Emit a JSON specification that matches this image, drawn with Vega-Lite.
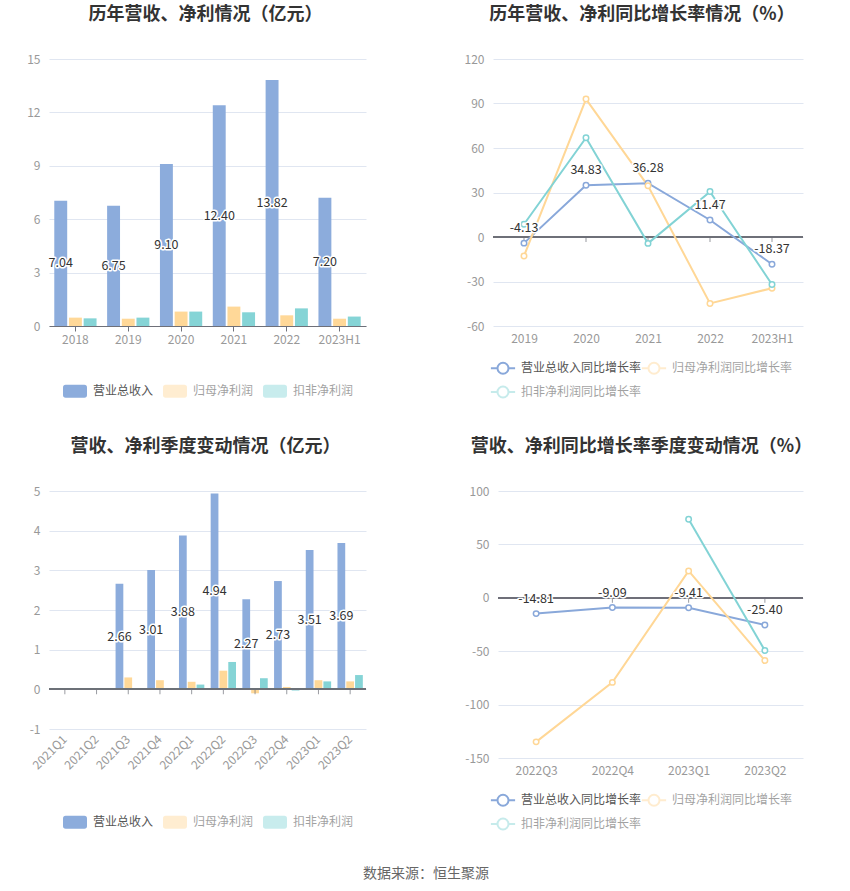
{
  "$schema": "https://vega.github.io/schema/vega-lite/v6.json",
  "background": "#ffffff",
  "padding": {"left": 26, "top": 6, "right": 20, "bottom": 10},
  "datasets": {
    "annual": [
      {"period": "2018", "series": "营业总收入", "value": 7.04},
      {"period": "2018", "series": "归母净利润", "value": 0.47},
      {"period": "2018", "series": "扣非净利润", "value": 0.43},
      {"period": "2019", "series": "营业总收入", "value": 6.75},
      {"period": "2019", "series": "归母净利润", "value": 0.41},
      {"period": "2019", "series": "扣非净利润", "value": 0.47},
      {"period": "2020", "series": "营业总收入", "value": 9.10},
      {"period": "2020", "series": "归母净利润", "value": 0.81},
      {"period": "2020", "series": "扣非净利润", "value": 0.81},
      {"period": "2021", "series": "营业总收入", "value": 12.40},
      {"period": "2021", "series": "归母净利润", "value": 1.09},
      {"period": "2021", "series": "扣非净利润", "value": 0.77},
      {"period": "2022", "series": "营业总收入", "value": 13.82},
      {"period": "2022", "series": "归母净利润", "value": 0.60},
      {"period": "2022", "series": "扣非净利润", "value": 0.99},
      {"period": "2023H1", "series": "营业总收入", "value": 7.20},
      {"period": "2023H1", "series": "归母净利润", "value": 0.41},
      {"period": "2023H1", "series": "扣非净利润", "value": 0.53}
    ],
    "annualGrowth": [
      {"period": "2019", "series": "营业总收入同比增长率", "value": -4.13},
      {"period": "2019", "series": "归母净利润同比增长率", "value": -12.8},
      {"period": "2019", "series": "扣非净利润同比增长率", "value": 8.6},
      {"period": "2020", "series": "营业总收入同比增长率", "value": 34.83},
      {"period": "2020", "series": "归母净利润同比增长率", "value": 93.0},
      {"period": "2020", "series": "扣非净利润同比增长率", "value": 66.9},
      {"period": "2021", "series": "营业总收入同比增长率", "value": 36.28},
      {"period": "2021", "series": "归母净利润同比增长率", "value": 34.5},
      {"period": "2021", "series": "扣非净利润同比增长率", "value": -4.3},
      {"period": "2022", "series": "营业总收入同比增长率", "value": 11.47},
      {"period": "2022", "series": "归母净利润同比增长率", "value": -44.8},
      {"period": "2022", "series": "扣非净利润同比增长率", "value": 30.6},
      {"period": "2023H1", "series": "营业总收入同比增长率", "value": -18.37},
      {"period": "2023H1", "series": "归母净利润同比增长率", "value": -34.5},
      {"period": "2023H1", "series": "扣非净利润同比增长率", "value": -32.0}
    ],
    "quarterly": [
      {"period": "2021Q1", "series": "营业总收入", "value": null},
      {"period": "2021Q2", "series": "营业总收入", "value": null},
      {"period": "2021Q3", "series": "营业总收入", "value": 2.66},
      {"period": "2021Q3", "series": "归母净利润", "value": 0.30},
      {"period": "2021Q4", "series": "营业总收入", "value": 3.01},
      {"period": "2021Q4", "series": "归母净利润", "value": 0.23},
      {"period": "2022Q1", "series": "营业总收入", "value": 3.88},
      {"period": "2022Q1", "series": "归母净利润", "value": 0.19},
      {"period": "2022Q1", "series": "扣非净利润", "value": 0.12},
      {"period": "2022Q2", "series": "营业总收入", "value": 4.94},
      {"period": "2022Q2", "series": "归母净利润", "value": 0.47},
      {"period": "2022Q2", "series": "扣非净利润", "value": 0.69},
      {"period": "2022Q3", "series": "营业总收入", "value": 2.27},
      {"period": "2022Q3", "series": "归母净利润", "value": -0.10},
      {"period": "2022Q3", "series": "扣非净利润", "value": 0.28},
      {"period": "2022Q4", "series": "营业总收入", "value": 2.73},
      {"period": "2022Q4", "series": "归母净利润", "value": 0.06},
      {"period": "2022Q4", "series": "扣非净利润", "value": -0.03},
      {"period": "2023Q1", "series": "营业总收入", "value": 3.51},
      {"period": "2023Q1", "series": "归母净利润", "value": 0.23},
      {"period": "2023Q1", "series": "扣非净利润", "value": 0.20},
      {"period": "2023Q2", "series": "营业总收入", "value": 3.69},
      {"period": "2023Q2", "series": "归母净利润", "value": 0.20},
      {"period": "2023Q2", "series": "扣非净利润", "value": 0.36}
    ],
    "quarterGrowth": [
      {"period": "2022Q3", "series": "营业总收入同比增长率", "value": -14.81},
      {"period": "2022Q3", "series": "归母净利润同比增长率", "value": -134.9},
      {"period": "2022Q3", "series": "扣非净利润同比增长率", "value": null},
      {"period": "2022Q4", "series": "营业总收入同比增长率", "value": -9.09},
      {"period": "2022Q4", "series": "归母净利润同比增长率", "value": -79.2},
      {"period": "2022Q4", "series": "扣非净利润同比增长率", "value": null},
      {"period": "2023Q1", "series": "营业总收入同比增长率", "value": -9.41},
      {"period": "2023Q1", "series": "归母净利润同比增长率", "value": 25.2},
      {"period": "2023Q1", "series": "扣非净利润同比增长率", "value": 73.6},
      {"period": "2023Q2", "series": "营业总收入同比增长率", "value": -25.40},
      {"period": "2023Q2", "series": "归母净利润同比增长率", "value": -58.8},
      {"period": "2023Q2", "series": "扣非净利润同比增长率", "value": -49.4}
    ]
  },
  "title": {"text": "数据来源：恒生聚源", "orient": "bottom", "anchor": "middle", "fontSize": 14, "fontWeight": "normal", "color": "#666666", "offset": 33, "frame": "group", "dx": 377},
  "spacing": 432,
  "bounds": "flush",
  "resolve": {"scale": {"color": "independent", "stroke": "independent", "x": "independent", "y": "independent", "xOffset": "independent"}, "legend": {"color": "independent", "stroke": "independent"}},
  "vconcat": [
    {
      "spacing": 127,
      "bounds": "flush",
      "resolve": {"scale": {"color": "independent", "stroke": "independent", "x": "independent", "y": "independent", "xOffset": "independent"}, "legend": {"color": "independent", "stroke": "independent"}},
      "hconcat": [
        {
          "width": 317,
          "height": 267,
          "title": {"text": "历年营收、净利情况（亿元）", "dx": -2},
          "data": {"name": "annual"},
          "encoding": {
            "x": {"field": "period", "type": "nominal", "sort": null,
              "scale": {"domain": ["2018", "2019", "2020", "2021", "2022", "2023H1"], "paddingInner": 0.2, "paddingOuter": 0.1},
              "axis": {"title": null, "labelAngle": 0, "domain": true, "domainColor": "#6E7079", "ticks": true, "tickColor": "#6E7079", "tickSize": 5, "labelPadding": 3}},
            "xOffset": {"field": "series", "type": "nominal", "sort": null, "scale": {"domain": ["营业总收入", "归母净利润", "扣非净利润"], "paddingInner": 0.12, "paddingOuter": 0}}
          },
          "layer": [
            {
              "mark": {"type": "bar"},
              "encoding": {
                "y": {"field": "value", "type": "quantitative", "stack": null, "scale": {"domain": [0, 15], "nice": false, "zero": false}, "axis": {"title": null, "values": [0, 3, 6, 9, 12, 15]}},
                "color": {"field": "series", "type": "nominal", "sort": null,
                  "scale": {"domain": ["营业总收入", "归母净利润", "扣非净利润"], "range": ["#8CACDC", "#FFD898", "#85D4D6"]},
                  "legend": {"orient": "none", "legendX": 14, "legendY": 320, "direction": "horizontal", "title": null,
                    "symbolType": "M-0.78,-0.54L0.78,-0.54Q1,-0.54,1,-0.32L1,0.32Q1,0.54,0.78,0.54L-0.78,0.54Q-1,0.54,-1,0.32L-1,-0.32Q-1,-0.54,-0.78,-0.54Z",
                    "symbolSize": 576, "symbolStrokeWidth": 0, "labelOffset": 6, "columnPadding": 9,
                    "encode": {"symbols": {"update": {"opacity": {"signal": "datum.value === '营业总收入' ? 1 : 0.45"}}}, "labels": {"update": {"opacity": {"signal": "datum.value === '营业总收入' ? 1 : 0.55"}}}}}}
              }
            },
            {
              "transform": [{"filter": "datum.series === '营业总收入'"}],
              "mark": {"type": "text", "fontSize": 12.5, "fill": "#ffffff", "stroke": "#ffffff", "strokeWidth": 3, "strokeJoin": "round", "baseline": "middle"},
              "encoding": {
                "y": {"field": "value", "type": "quantitative", "stack": null, "scale": {"domain": [0, 30], "nice": false, "zero": false}, "axis": null},
                "text": {"field": "value", "type": "quantitative", "format": ".2f"}
              }
            },
            {
              "transform": [{"filter": "datum.series === '营业总收入'"}],
              "mark": {"type": "text", "fontSize": 12.5, "fill": "#333333", "baseline": "middle"},
              "encoding": {
                "y": {"field": "value", "type": "quantitative", "stack": null, "scale": {"domain": [0, 30], "nice": false, "zero": false}, "axis": null},
                "text": {"field": "value", "type": "quantitative", "format": ".2f"}
              }
            }
          ],
          "resolve": {"scale": {"y": "independent"}}
        },
        {
          "width": 310,
          "height": 267,
          "title": {"text": "历年营收、净利同比增长率情况（%）", "dx": -6},
          "data": {"name": "annualGrowth"},
          "layer": [
            {
              "mark": {"type": "rule", "color": "#6E7079", "strokeWidth": 1},
              "encoding": {"y": {"datum": 0, "type": "quantitative", "scale": {"domain": [-60, 120], "nice": false, "zero": false}}}
            },
            {
              "transform": [{"filter": "datum.series === '营业总收入同比增长率'"}],
              "mark": {"type": "tick", "orient": "vertical", "size": 5, "thickness": 1, "color": "#6E7079", "yOffset": 2.5},
              "encoding": {
                "x": {"field": "period", "type": "nominal", "sort": null, "scale": {"type": "point", "domain": ["2019", "2020", "2021", "2022", "2023H1"], "padding": 0.5}, "axis": {"title": null, "labelAngle": 0, "labelPadding": 7}},
                "y": {"datum": 0, "type": "quantitative"}
              }
            },
            {
              "mark": {"type": "line", "strokeWidth": 2},
              "encoding": {
                "x": {"field": "period", "type": "nominal", "sort": null},
                "y": {"field": "value", "type": "quantitative", "axis": {"title": null, "values": [-60, -30, 0, 30, 60, 90, 120]}},
                "stroke": {"field": "series", "type": "nominal", "sort": null,
                  "scale": {"domain": ["营业总收入同比增长率", "归母净利润同比增长率", "扣非净利润同比增长率"], "range": ["#89A8DA", "#FFD796", "#82D3D5"]},
                  "legend": {"orient": "none", "legendX": -2, "legendY": 297, "direction": "horizontal", "columns": 2, "title": null,
                    "symbolType": "M-1.1,0L-0.5,0M0.5,0L1.1,0M-0.5,0A0.5,0.5,0,1,1,0.5,0A0.5,0.5,0,1,1,-0.5,0",
                    "symbolSize": 484, "symbolStrokeWidth": 2, "symbolFillColor": "#ffffff", "labelOffset": 6, "columnPadding": -6, "rowPadding": 2,
                    "encode": {"symbols": {"update": {"opacity": {"signal": "datum.value === '营业总收入同比增长率' ? 1 : 0.45"}}}, "labels": {"update": {"opacity": {"signal": "datum.value === '营业总收入同比增长率' ? 1 : 0.55"}}}}}}
              }
            },
            {
              "mark": {"type": "point", "filled": false, "fill": "#ffffff", "fillOpacity": 1, "size": 30, "strokeWidth": 1.5, "opacity": 1},
              "encoding": {
                "x": {"field": "period", "type": "nominal", "sort": null},
                "y": {"field": "value", "type": "quantitative"},
                "stroke": {"field": "series", "type": "nominal", "sort": null}
              }
            },
            {
              "transform": [{"filter": "datum.series === '营业总收入同比增长率'"}],
              "mark": {"type": "text", "fontSize": 12.5, "fill": "#ffffff", "stroke": "#ffffff", "strokeWidth": 3, "strokeJoin": "round", "baseline": "middle", "dy": -15},
              "encoding": {
                "x": {"field": "period", "type": "nominal", "sort": null},
                "y": {"field": "value", "type": "quantitative"},
                "text": {"field": "value", "type": "quantitative", "format": ".2f"}
              }
            },
            {
              "transform": [{"filter": "datum.series === '营业总收入同比增长率'"}],
              "mark": {"type": "text", "fontSize": 12.5, "fill": "#333333", "baseline": "middle", "dy": -15},
              "encoding": {
                "x": {"field": "period", "type": "nominal", "sort": null},
                "y": {"field": "value", "type": "quantitative"},
                "text": {"field": "value", "type": "quantitative", "format": ".2f"}
              }
            }
          ]
        }
      ]
    },
    {
      "spacing": 132,
      "bounds": "flush",
      "resolve": {"scale": {"color": "independent", "stroke": "independent", "x": "independent", "y": "independent", "xOffset": "independent"}, "legend": {"color": "independent", "stroke": "independent"}},
      "hconcat": [
        {
          "width": 317,
          "height": 238,
          "title": {"text": "营收、净利季度变动情况（亿元）", "dx": -2},
          "data": {"name": "quarterly"},
          "encoding": {
            "x": {"field": "period", "type": "nominal", "sort": null,
              "scale": {"domain": ["2021Q1", "2021Q2", "2021Q3", "2021Q4", "2022Q1", "2022Q2", "2022Q3", "2022Q4", "2023Q1", "2023Q2"], "paddingInner": 0.2, "paddingOuter": 0.1},
              "axis": {"title": null, "labelAngle": -45, "labelAlign": "right", "labelBaseline": "middle", "labelPadding": 8}}
          },
          "layer": [
            {
              "mark": {"type": "bar"},
              "encoding": {
                "xOffset": {"field": "series", "type": "nominal", "sort": null, "scale": {"domain": ["营业总收入", "归母净利润", "扣非净利润"], "paddingInner": 0.12, "paddingOuter": 0}},
                "y": {"field": "value", "type": "quantitative", "stack": null, "scale": {"domain": [-1, 5], "nice": false, "zero": false}, "axis": {"title": null, "values": [-1, 0, 1, 2, 3, 4, 5]}},
                "color": {"field": "series", "type": "nominal", "sort": null,
                  "scale": {"domain": ["营业总收入", "归母净利润", "扣非净利润"], "range": ["#8CACDC", "#FFD898", "#85D4D6"]},
                  "legend": {"orient": "none", "legendX": 14, "legendY": 319, "direction": "horizontal", "title": null,
                    "symbolType": "M-0.78,-0.54L0.78,-0.54Q1,-0.54,1,-0.32L1,0.32Q1,0.54,0.78,0.54L-0.78,0.54Q-1,0.54,-1,0.32L-1,-0.32Q-1,-0.54,-0.78,-0.54Z",
                    "symbolSize": 576, "symbolStrokeWidth": 0, "labelOffset": 6, "columnPadding": 9,
                    "encode": {"symbols": {"update": {"opacity": {"signal": "datum.value === '营业总收入' ? 1 : 0.45"}}}, "labels": {"update": {"opacity": {"signal": "datum.value === '营业总收入' ? 1 : 0.55"}}}}}}
              }
            },
            {
              "mark": {"type": "rule", "color": "#6E7079", "strokeWidth": 1},
              "encoding": {"x": null, "y": {"datum": 0, "type": "quantitative", "scale": {"domain": [-1, 5], "nice": false, "zero": false}, "axis": null}}
            },
            {
              "transform": [{"filter": "datum.series === '营业总收入'"}],
              "mark": {"type": "tick", "orient": "vertical", "size": 5, "thickness": 1, "color": "#6E7079", "yOffset": 2.5},
              "encoding": {"y": {"datum": 0, "type": "quantitative", "scale": {"domain": [-1, 5], "nice": false, "zero": false}, "axis": null}}
            },
            {
              "transform": [{"filter": "datum.series === '营业总收入'"}],
              "mark": {"type": "text", "fontSize": 12.5, "fill": "#ffffff", "stroke": "#ffffff", "strokeWidth": 3, "strokeJoin": "round", "baseline": "middle"},
              "encoding": {
                "xOffset": {"field": "series", "type": "nominal", "sort": null, "scale": {"domain": ["营业总收入", "归母净利润", "扣非净利润"], "paddingInner": 0.12, "paddingOuter": 0}},
                "y": {"field": "value", "type": "quantitative", "stack": null, "scale": {"domain": [-2, 10], "nice": false, "zero": false}, "axis": null},
                "text": {"field": "value", "type": "quantitative", "format": ".2f"}
              }
            },
            {
              "transform": [{"filter": "datum.series === '营业总收入'"}],
              "mark": {"type": "text", "fontSize": 12.5, "fill": "#333333", "baseline": "middle"},
              "encoding": {
                "xOffset": {"field": "series", "type": "nominal", "sort": null, "scale": {"domain": ["营业总收入", "归母净利润", "扣非净利润"], "paddingInner": 0.12, "paddingOuter": 0}},
                "y": {"field": "value", "type": "quantitative", "stack": null, "scale": {"domain": [-2, 10], "nice": false, "zero": false}, "axis": null},
                "text": {"field": "value", "type": "quantitative", "format": ".2f"}
              }
            }
          ],
          "resolve": {"scale": {"y": "independent"}}
        },
        {
          "width": 305,
          "height": 267,
          "title": {"text": "营收、净利同比增长率季度变动情况（%）", "dx": -9},
          "data": {"name": "quarterGrowth"},
          "layer": [
            {
              "mark": {"type": "rule", "color": "#6E7079", "strokeWidth": 1},
              "encoding": {"y": {"datum": 0, "type": "quantitative", "scale": {"domain": [-150, 100], "nice": false, "zero": false}}}
            },
            {
              "transform": [{"filter": "datum.series === '营业总收入同比增长率'"}],
              "mark": {"type": "tick", "orient": "vertical", "size": 5, "thickness": 1, "color": "#6E7079", "yOffset": 2.5},
              "encoding": {
                "x": {"field": "period", "type": "nominal", "sort": null, "scale": {"type": "point", "domain": ["2022Q3", "2022Q4", "2023Q1", "2023Q2"], "padding": 0.5}, "axis": {"title": null, "labelAngle": 0, "labelPadding": 7}},
                "y": {"datum": 0, "type": "quantitative"}
              }
            },
            {
              "mark": {"type": "line", "strokeWidth": 2},
              "encoding": {
                "x": {"field": "period", "type": "nominal", "sort": null},
                "y": {"field": "value", "type": "quantitative", "axis": {"title": null, "values": [-150, -100, -50, 0, 50, 100]}},
                "stroke": {"field": "series", "type": "nominal", "sort": null,
                  "scale": {"domain": ["营业总收入同比增长率", "归母净利润同比增长率", "扣非净利润同比增长率"], "range": ["#89A8DA", "#FFD796", "#82D3D5"]},
                  "legend": {"orient": "none", "legendX": -7, "legendY": 297, "direction": "horizontal", "columns": 2, "title": null,
                    "symbolType": "M-1.1,0L-0.5,0M0.5,0L1.1,0M-0.5,0A0.5,0.5,0,1,1,0.5,0A0.5,0.5,0,1,1,-0.5,0",
                    "symbolSize": 484, "symbolStrokeWidth": 2, "symbolFillColor": "#ffffff", "labelOffset": 6, "columnPadding": -6, "rowPadding": 2,
                    "encode": {"symbols": {"update": {"opacity": {"signal": "datum.value === '营业总收入同比增长率' ? 1 : 0.45"}}}, "labels": {"update": {"opacity": {"signal": "datum.value === '营业总收入同比增长率' ? 1 : 0.55"}}}}}}
              }
            },
            {
              "mark": {"type": "point", "filled": false, "fill": "#ffffff", "fillOpacity": 1, "size": 30, "strokeWidth": 1.5, "opacity": 1},
              "encoding": {
                "x": {"field": "period", "type": "nominal", "sort": null},
                "y": {"field": "value", "type": "quantitative"},
                "stroke": {"field": "series", "type": "nominal", "sort": null}
              }
            },
            {
              "transform": [{"filter": "datum.series === '营业总收入同比增长率'"}],
              "mark": {"type": "text", "fontSize": 12.5, "fill": "#ffffff", "stroke": "#ffffff", "strokeWidth": 3, "strokeJoin": "round", "baseline": "middle", "dy": -15},
              "encoding": {
                "x": {"field": "period", "type": "nominal", "sort": null},
                "y": {"field": "value", "type": "quantitative"},
                "text": {"field": "value", "type": "quantitative", "format": ".2f"}
              }
            },
            {
              "transform": [{"filter": "datum.series === '营业总收入同比增长率'"}],
              "mark": {"type": "text", "fontSize": 12.5, "fill": "#333333", "baseline": "middle", "dy": -15},
              "encoding": {
                "x": {"field": "period", "type": "nominal", "sort": null},
                "y": {"field": "value", "type": "quantitative"},
                "text": {"field": "value", "type": "quantitative", "format": ".2f"}
              }
            }
          ]
        }
      ]
    }
  ],
  "config": {
    "font": "Noto Sans CJK SC",
    "view": {"stroke": null},
    "axis": {"labelColor": "#999999", "labelFontSize": 12, "labelFont": "Noto Sans CJK SC", "grid": false, "domain": false, "ticks": false, "tickSize": 0},
    "axisY": {"grid": true, "gridColor": "#E0E6F1", "gridWidth": 1, "labelPadding": 9},
    "title": {"font": "Noto Sans CJK SC", "fontSize": 18, "fontWeight": "bold", "color": "#333333", "anchor": "middle", "frame": "group", "offset": 29},
    "legend": {"labelFont": "Noto Sans CJK SC", "labelFontSize": 12, "labelColor": "#555555", "padding": 0},
    "locale": {"number": {"decimal": ".", "thousands": ",", "grouping": [3], "currency": ["", ""], "minus": "-"}}
  }
}
